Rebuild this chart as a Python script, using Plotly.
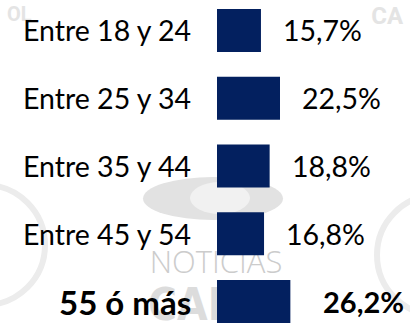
import plotly.graph_objects as go

# Age groups and their share (%)
categories = ["Entre 18 y 24", "Entre 25 y 34", "Entre 35 y 44", "Entre 45 y 54", "55 ó más"]
values = [15.7, 22.5, 18.8, 16.8, 26.2]
value_labels = ["15,7%", "22,5%", "18,8%", "16,8%", "26,2%"]
highlight = [False, False, False, False, True]

BAR_COLOR = "#03205F"
FONT = "Lato"
MARK = "#ececec"

fig = go.Figure(
    go.Bar(
        x=values,
        y=categories,
        orientation="h",
        marker=dict(color=BAR_COLOR, line=dict(width=0)),
        width=0.635,
        hoverinfo="skip",
    )
)


def px_box(x0, y0, x1, y1):
    """Pixel box (top-left origin) to paper coordinates."""
    return dict(xref="paper", yref="paper",
                x0=x0 / 410, x1=x1 / 410, y0=1 - y1 / 333, y1=1 - y0 / 333)


def mark_text(text, box, family, size, color, weight="normal", pos="middle center"):
    """Watermark lettering kept underneath the bars."""
    fig.add_shape(type="rect", **px_box(*box), layer="below",
                  line=dict(width=0), fillcolor="rgba(0,0,0,0)",
                  label=dict(text=text, textposition=pos, padding=0,
                             font=dict(family=family, size=size, color=color,
                                       weight=weight)))


# Faint "NOTICIAS CARACOL" watermark behind the bars
fig.add_shape(type="circle", **px_box(-75, 185, 45, 305),
              line=dict(color=MARK, width=6), layer="below")
fig.add_shape(type="circle", **px_box(377, 195, 497, 315),
              line=dict(color=MARK, width=6), layer="below")
fig.add_shape(type="circle", **px_box(143, 177, 283, 220),
              fillcolor="#e2e2e2", line=dict(width=0), layer="below")
fig.add_shape(type="circle", **px_box(190, 182, 250, 214),
              fillcolor="#f1f1f1", line=dict(width=0), layer="below")
mark_text("NOTICIAS", (145, 249, 287, 277), "Open Sans", 31, "#cccccc", 300)
mark_text("CARA", (145, 282, 260, 320),
          "Liberation Sans Narrow, DejaVu Sans Condensed, sans-serif", 44,
          "#dcdcdc", "bold", "middle left")
mark_text("OL", (4, 3, 44, 23), "Roboto", 20, "#e4e4e4", "bold", "middle left")
mark_text("CA", (366, 3, 406, 25), "Roboto", 24, "#e4e4e4", "bold", "middle right")

for cat, val, lab, hl in zip(categories, values, value_labels, highlight):
    weight = "bold" if hl else "normal"
    fig.add_annotation(x=0, y=cat, text=cat, xanchor="right", xshift=-24,
                       showarrow=False,
                       font=dict(family=FONT, size=33 if hl else 28.5,
                                 color="black", weight=weight))
    fig.add_annotation(x=val, y=cat, text=lab, xanchor="left",
                       xshift=31 if hl else 20, showarrow=False,
                       font=dict(family=FONT, size=29 if hl else 28.5,
                                 color="black", weight=weight))

fig.update_layout(
    width=410, height=333,
    margin=dict(l=0, r=0, t=0, b=0),
    paper_bgcolor="white", plot_bgcolor="white",
    showlegend=False,
    xaxis=dict(range=[-77.5, 68.93], visible=False, fixedrange=True),
    yaxis=dict(categoryorder="array", categoryarray=categories,
               range=[4.465, -0.450], visible=False, fixedrange=True),
)

fig.write_html("out.html", config={"displayModeBar": False})
